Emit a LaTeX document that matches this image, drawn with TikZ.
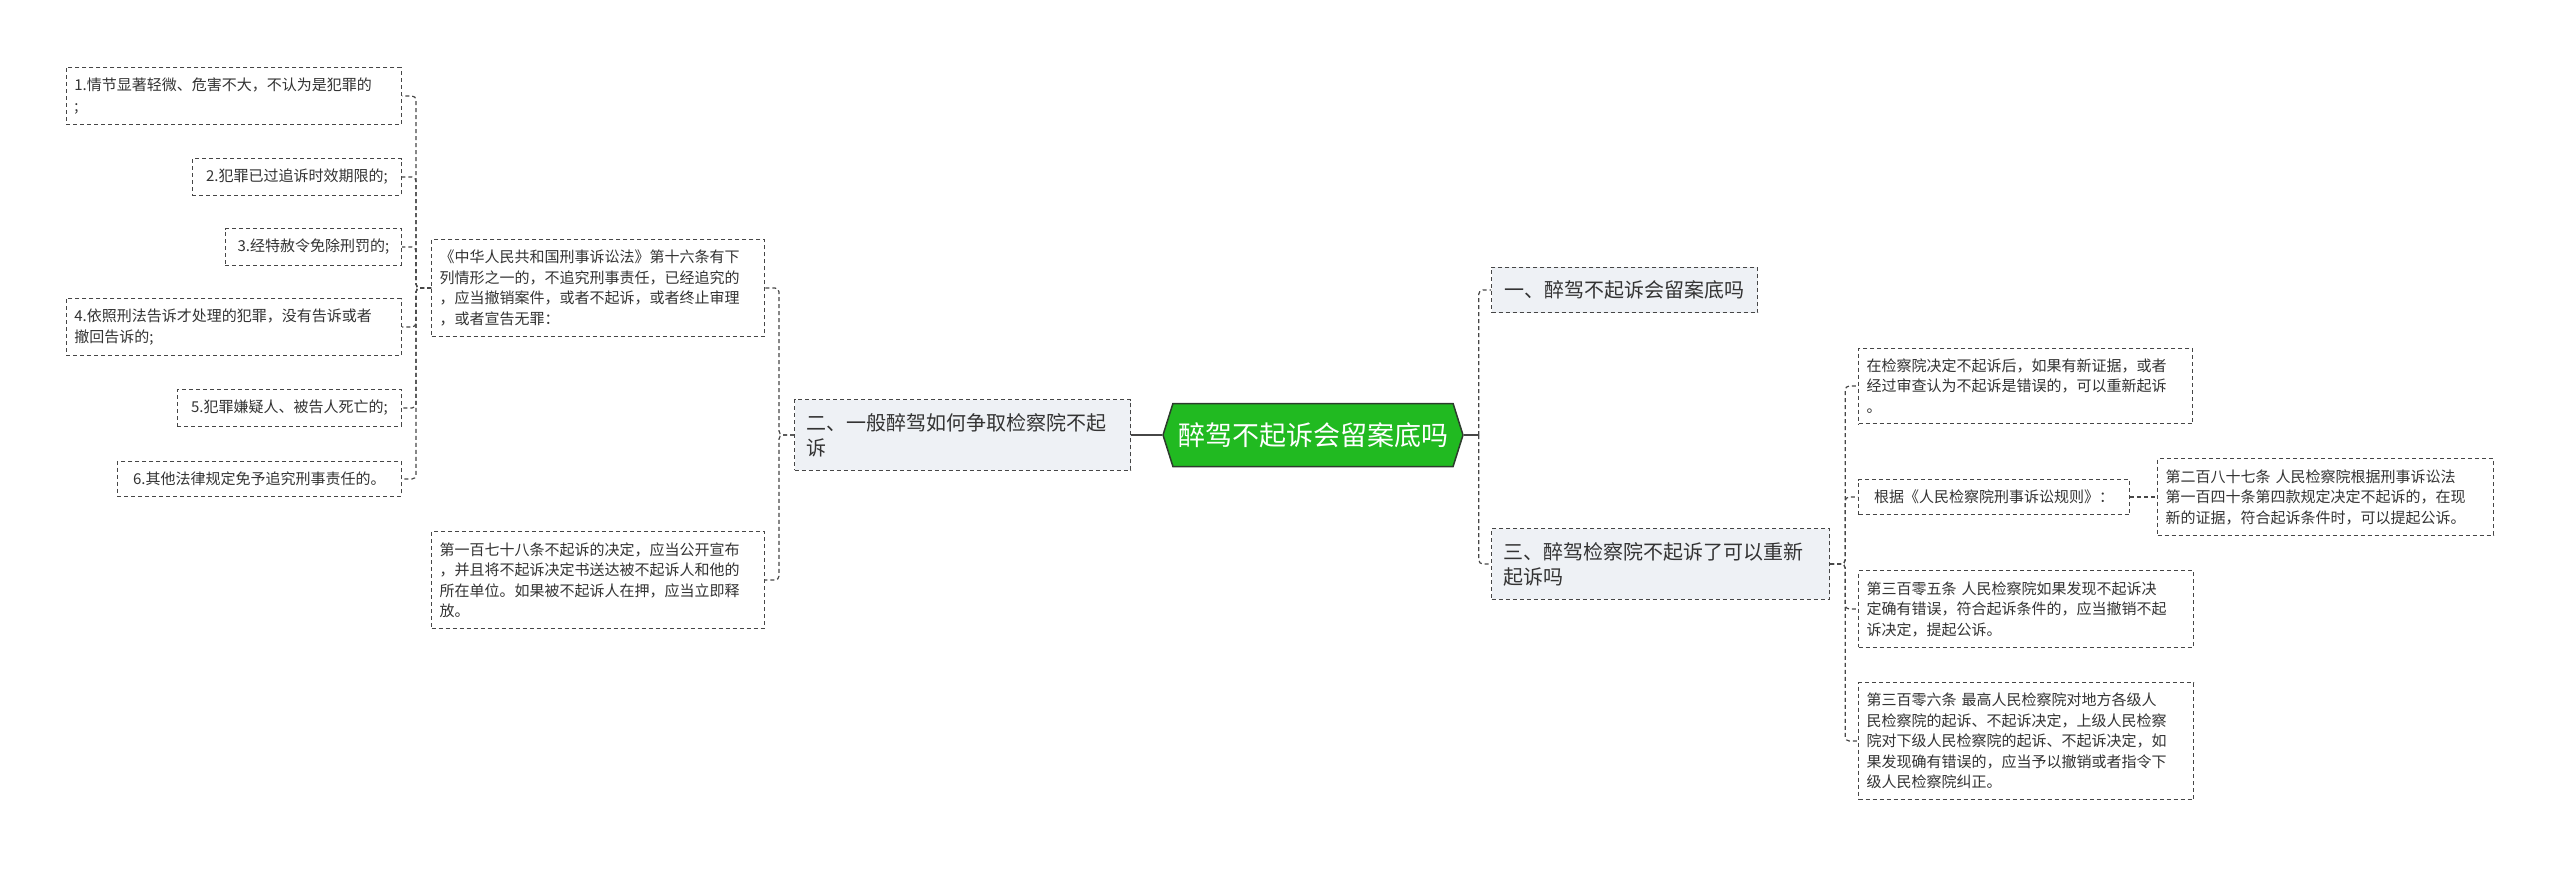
\documentclass[tikz,border=0pt]{standalone}
\usepackage{fontspec}
\setmainfont{Noto Sans CJK SC}
\usetikzlibrary{shapes.symbols}

\definecolor{rootgreen}{RGB}{33,186,33}
\definecolor{rootline}{RGB}{45,60,45}
\definecolor{topicfill}{RGB}{238,241,245}
\definecolor{linegray}{RGB}{70,70,70}
\definecolor{textgray}{RGB}{51,51,51}

\begin{document}
\begin{tikzpicture}[
  x=1pt, y=-1pt,
  root/.style={signal, signal to=east and west, signal pointer angle=145, draw=rootline,
    line width=1.5pt, fill=rootgreen, text=white, font=\fontsize{27pt}{32pt}\selectfont,
    minimum width=300pt, minimum height=63pt, inner xsep=2pt},
  topic/.style={draw=linegray, dash pattern=on 4pt off 3pt, line width=1.2pt, fill=topicfill,
    text=textgray, align=left, inner xsep=12pt, inner ysep=13.5pt,
    font=\fontsize{20pt}{25pt}\selectfont},
  leaf/.style={draw=linegray, dash pattern=on 4pt off 3pt, line width=1.2pt, fill=white,
    text=textgray, align=left, inner xsep=8pt, inner ysep=10.5pt,
    font=\fontsize{15pt}{20.5pt}\selectfont},
  link/.style={draw=linegray, dash pattern=on 4pt off 3pt, line width=1.2pt, rounded corners=4pt},
  trunk/.style={draw=linegray, line width=1.5pt}
]
\useasboundingbox (0,0) rectangle (2560,868);

% centre
\node[root] (root) at (1313,435) {醉驾不起诉会留案底吗};

% left branch
\node[topic, text width=312pt, anchor=west] (sub2) at (794,435)
  {二、一般醉驾如何争取检察院不起\\诉};
\node[leaf, text width=317pt, anchor=west] (lawA) at (431,288)
  {《中华人民共和国刑事诉讼法》第十六条有下\\列情形之一的，不追究刑事责任，已经追究的\\，应当撤销案件，或者不起诉，或者终止审理\\，或者宣告无罪：};
\node[leaf, text width=317pt, anchor=west] (lawB) at (431,580)
  {第一百七十八条不起诉的决定，应当公开宣布\\，并且将不起诉决定书送达被不起诉人和他的\\所在单位。如果被不起诉人在押，应当立即释\\放。};
\node[leaf, text width=319pt, anchor=east] (case1) at (402,96)
  {1.情节显著轻微、危害不大，不认为是犯罪的\\;};
\node[leaf, minimum width=209pt, anchor=east] (case2) at (402,177)
  {2.犯罪已过追诉时效期限的;};
\node[leaf, minimum width=176pt, anchor=east] (case3) at (402,247)
  {3.经特赦令免除刑罚的;};
\node[leaf, text width=319pt, anchor=east] (case4) at (402,327)
  {4.依照刑法告诉才处理的犯罪，没有告诉或者\\撤回告诉的;};
\node[leaf, minimum width=224pt, anchor=east] (case5) at (402,408)
  {5.犯罪嫌疑人、被告人死亡的;};
\node[leaf, minimum width=284pt, anchor=east] (case6) at (402,479)
  {6.其他法律规定免予追究刑事责任的。};

% right branch
\node[topic, minimum width=266pt, anchor=west] (sub1) at (1491,290)
  {一、醉驾不起诉会留案底吗};
\node[topic, text width=314pt, anchor=west] (sub3) at (1491,564)
  {三、醉驾检察院不起诉了可以重新\\起诉吗};
\node[leaf, text width=318pt, anchor=west] (again) at (1858,386)
  {在检察院决定不起诉后，如果有新证据，或者\\经过审查认为不起诉是错误的，可以重新起诉\\。};
\node[leaf, minimum width=271pt, anchor=west] (rules) at (1858,497)
  {根据《人民检察院刑事诉讼规则》：};
\node[leaf, text width=320pt, anchor=west] (art287) at (2157,497)
  {第二百八十七条 人民检察院根据刑事诉讼法\\第一百四十条第四款规定决定不起诉的，在现\\新的证据，符合起诉条件时，可以提起公诉。};
\node[leaf, text width=319pt, anchor=west] (art305) at (1858,609)
  {第三百零五条 人民检察院如果发现不起诉决\\定确有错误，符合起诉条件的，应当撤销不起\\诉决定，提起公诉。};
\node[leaf, text width=319pt, anchor=west] (art306) at (1858,741)
  {第三百零六条 最高人民检察院对地方各级人\\民检察院的起诉、不起诉决定，上级人民检察\\院对下级人民检察院的起诉、不起诉决定，如\\果发现确有错误的，应当予以撤销或者指令下\\级人民检察院纠正。};

% connectors
\draw[trunk] (root.west) -- (sub2.east);
\draw[trunk] (root.east) -- ++(15,0) coordinate (rj);
\draw[link] (rj) |- (sub1.west);
\draw[link] (rj) |- (sub3.west);
\draw[link] (sub2.west) -- ++(-15,0) |- (lawA.east);
\draw[link] (sub2.west) -- ++(-15,0) |- (lawB.east);
\draw[link] (lawA.west) -- ++(-15,0) |- (case1.east);
\draw[link] (lawA.west) -- ++(-15,0) |- (case2.east);
\draw[link] (lawA.west) -- ++(-15,0) |- (case3.east);
\draw[link] (lawA.west) -- ++(-15,0) |- (case4.east);
\draw[link] (lawA.west) -- ++(-15,0) |- (case5.east);
\draw[link] (lawA.west) -- ++(-15,0) |- (case6.east);
\draw[link] (sub3.east) -- ++(15,0) |- (again.west);
\draw[link] (sub3.east) -- ++(15,0) |- (rules.west);
\draw[link] (sub3.east) -- ++(15,0) |- (art305.west);
\draw[link] (sub3.east) -- ++(15,0) |- (art306.west);
\draw[link] (rules.east) -- (art287.west);
\end{tikzpicture}
\end{document}
